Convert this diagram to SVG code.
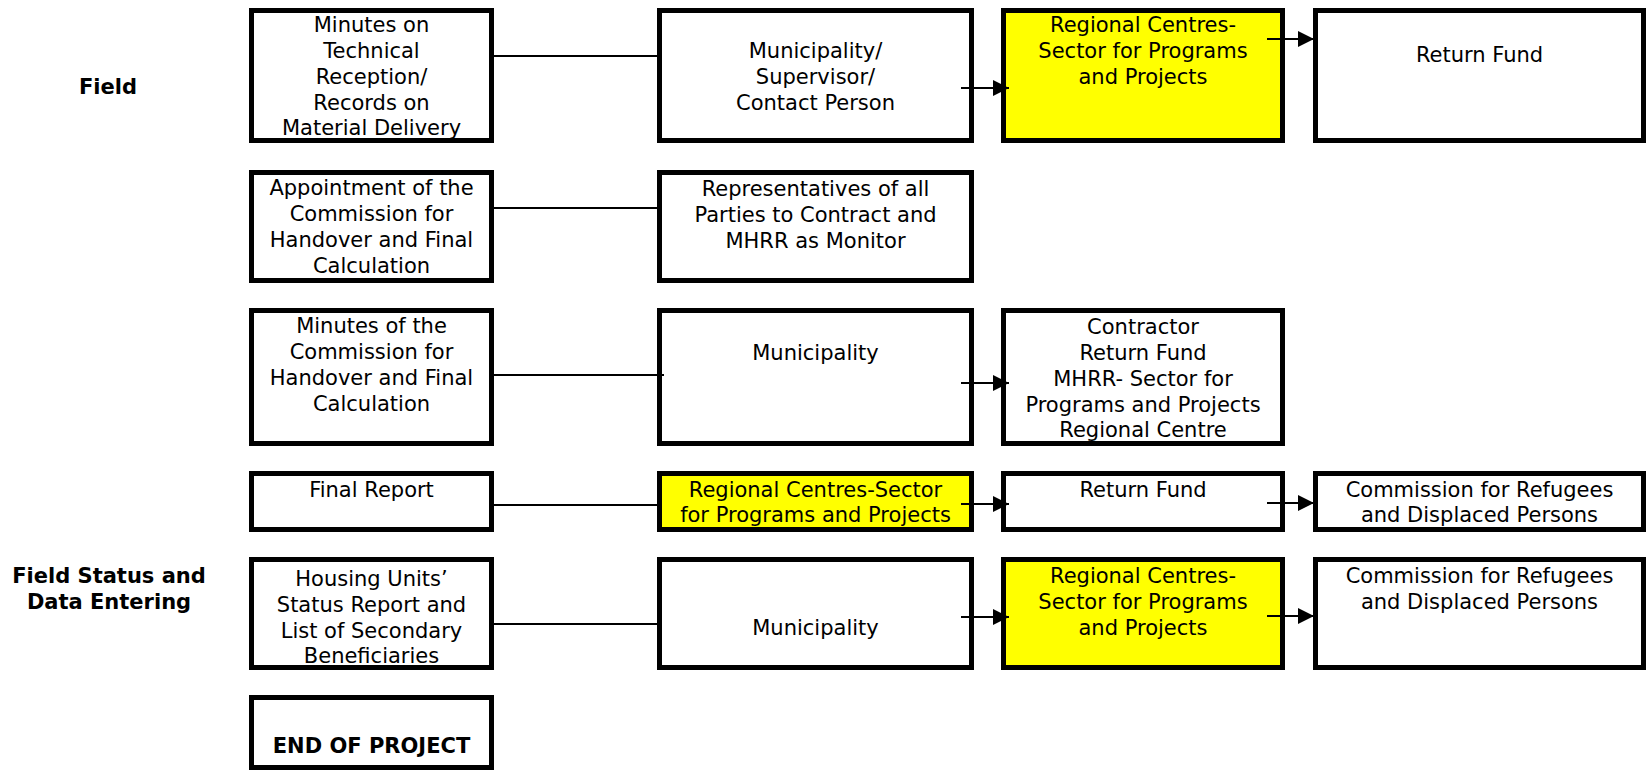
<svg xmlns="http://www.w3.org/2000/svg" width="1648" height="771" viewBox="0 0 1648 771">
  <defs>
    <marker id="arrow" viewBox="0 0 16 16" refX="16" refY="8" markerWidth="16" markerHeight="16" markerUnits="userSpaceOnUse" orient="auto">
      <path d="M0,0 L16,8 L0,16 Z" fill="#000"/>
    </marker>
    <style>
      .box { fill: #fff; stroke: #000; stroke-width: 5; }
      .hl { fill: #ffff00; stroke: #000; stroke-width: 5; }
      .t { font-family: "DejaVu Sans", Verdana, sans-serif; font-size: 21px; fill: #000; text-anchor: middle; }
      .b { font-family: "DejaVu Sans", Verdana, sans-serif; font-size: 21px; font-weight: bold; fill: #000; text-anchor: middle; }
      .link { stroke: #000; stroke-width: 2; fill: none; }
      .arr { stroke: #000; stroke-width: 2; fill: none; marker-end: url(#arrow); }
    </style>
  </defs>

  <!-- Phase labels -->
  <g id="label-field">
    <text class="b" x="108" y="94">Field</text>
  </g>
  <g id="label-field-status">
    <text class="b" x="109" y="583">Field Status and</text>
    <text class="b" x="109" y="609">Data Entering</text>
  </g>

  <!-- Row 1 -->
  <g id="minutes-technical-reception">
    <rect class="box" x="251.5" y="10.5" width="240" height="130"/>
    <text class="t" x="371.5" y="32">Minutes on</text>
    <text class="t" x="371.5" y="58">Technical</text>
    <text class="t" x="371.5" y="84">Reception/</text>
    <text class="t" x="371.5" y="110">Records on</text>
    <text class="t" x="371.5" y="135">Material Delivery</text>
  </g>
  <g id="municipality-supervisor">
    <rect class="box" x="659.5" y="10.5" width="312" height="130"/>
    <text class="t" x="815.5" y="58">Municipality/</text>
    <text class="t" x="815.5" y="84">Supervisor/</text>
    <text class="t" x="815.5" y="110">Contact Person</text>
  </g>
  <g id="regional-centres-1">
    <rect class="hl" x="1003.5" y="10.5" width="279" height="130"/>
    <text class="t" x="1143" y="32">Regional Centres-</text>
    <text class="t" x="1143" y="58">Sector for Programs</text>
    <text class="t" x="1143" y="84">and Projects</text>
  </g>
  <g id="return-fund-1">
    <rect class="box" x="1315.5" y="10.5" width="328" height="130"/>
    <text class="t" x="1479.5" y="62">Return Fund</text>
  </g>

  <!-- Row 2 -->
  <g id="appointment-commission">
    <rect class="box" x="251.5" y="172.5" width="240" height="108"/>
    <text class="t" x="371.5" y="195">Appointment of the</text>
    <text class="t" x="371.5" y="221">Commission for</text>
    <text class="t" x="371.5" y="247">Handover and Final</text>
    <text class="t" x="371.5" y="273">Calculation</text>
  </g>
  <g id="representatives">
    <rect class="box" x="659.5" y="172.5" width="312" height="108"/>
    <text class="t" x="815.5" y="196">Representatives of all</text>
    <text class="t" x="815.5" y="222">Parties to Contract and</text>
    <text class="t" x="815.5" y="248">MHRR as Monitor</text>
  </g>

  <!-- Row 3 -->
  <g id="minutes-commission">
    <rect class="box" x="251.5" y="310.5" width="240" height="133"/>
    <text class="t" x="371.5" y="333">Minutes of the</text>
    <text class="t" x="371.5" y="359">Commission for</text>
    <text class="t" x="371.5" y="385">Handover and Final</text>
    <text class="t" x="371.5" y="411">Calculation</text>
  </g>
  <g id="municipality-3">
    <rect class="box" x="659.5" y="310.5" width="312" height="133"/>
    <text class="t" x="815.5" y="360">Municipality</text>
  </g>
  <g id="contractor-list">
    <rect class="box" x="1003.5" y="310.5" width="279" height="133"/>
    <text class="t" x="1143" y="334">Contractor</text>
    <text class="t" x="1143" y="360">Return Fund</text>
    <text class="t" x="1143" y="386">MHRR- Sector for</text>
    <text class="t" x="1143" y="412">Programs and Projects</text>
    <text class="t" x="1143" y="437">Regional Centre</text>
  </g>

  <!-- Row 4 -->
  <g id="final-report">
    <rect class="box" x="251.5" y="473.5" width="240" height="56"/>
    <text class="t" x="371.5" y="497">Final Report</text>
  </g>
  <g id="regional-centres-4">
    <rect class="hl" x="659.5" y="473.5" width="312" height="56"/>
    <text class="t" x="815.5" y="497">Regional Centres-Sector</text>
    <text class="t" x="815.5" y="522">for Programs and Projects</text>
  </g>
  <g id="return-fund-4">
    <rect class="box" x="1003.5" y="473.5" width="279" height="56"/>
    <text class="t" x="1143" y="497">Return Fund</text>
  </g>
  <g id="commission-refugees-4">
    <rect class="box" x="1315.5" y="473.5" width="328" height="56"/>
    <text class="t" x="1479.5" y="497">Commission for Refugees</text>
    <text class="t" x="1479.5" y="522">and Displaced Persons</text>
  </g>

  <!-- Row 5 -->
  <g id="housing-units-report">
    <rect class="box" x="251.5" y="559.5" width="240" height="108"/>
    <text class="t" x="371.5" y="586">Housing Units’</text>
    <text class="t" x="371.5" y="612">Status Report and</text>
    <text class="t" x="371.5" y="638">List of Secondary</text>
    <text class="t" x="371.5" y="663">Beneficiaries</text>
  </g>
  <g id="municipality-5">
    <rect class="box" x="659.5" y="559.5" width="312" height="108"/>
    <text class="t" x="815.5" y="635">Municipality</text>
  </g>
  <g id="regional-centres-5">
    <rect class="hl" x="1003.5" y="559.5" width="279" height="108"/>
    <text class="t" x="1143" y="583">Regional Centres-</text>
    <text class="t" x="1143" y="609">Sector for Programs</text>
    <text class="t" x="1143" y="635">and Projects</text>
  </g>
  <g id="commission-refugees-5">
    <rect class="box" x="1315.5" y="559.5" width="328" height="108"/>
    <text class="t" x="1479.5" y="583">Commission for Refugees</text>
    <text class="t" x="1479.5" y="609">and Displaced Persons</text>
  </g>

  <!-- Row 6 -->
  <g id="end-of-project">
    <rect class="box" x="251.5" y="697.5" width="240" height="70"/>
    <text class="b" x="371.5" y="753">END OF PROJECT</text>
  </g>

  <!-- Connectors, drawn over the boxes so arrow tails show inside them -->
  <g id="connectors">
    <line class="link" x1="494" y1="56" x2="657" y2="56"/>
    <line class="link" x1="494" y1="208" x2="657" y2="208"/>
    <line class="link" x1="494" y1="375" x2="664" y2="375"/>
    <line class="link" x1="494" y1="505" x2="657" y2="505"/>
    <line class="link" x1="494" y1="624" x2="657" y2="624"/>

    <line class="arr" x1="961" y1="88" x2="1009" y2="88"/>
    <line class="arr" x1="961" y1="383" x2="1009" y2="383"/>
    <line class="arr" x1="961" y1="504" x2="1009" y2="504"/>
    <line class="arr" x1="961" y1="617" x2="1009" y2="617"/>

    <line class="arr" x1="1267" y1="39" x2="1314" y2="39"/>
    <line class="arr" x1="1267" y1="503" x2="1314" y2="503"/>
    <line class="arr" x1="1267" y1="616" x2="1314" y2="616"/>
  </g>
</svg>
